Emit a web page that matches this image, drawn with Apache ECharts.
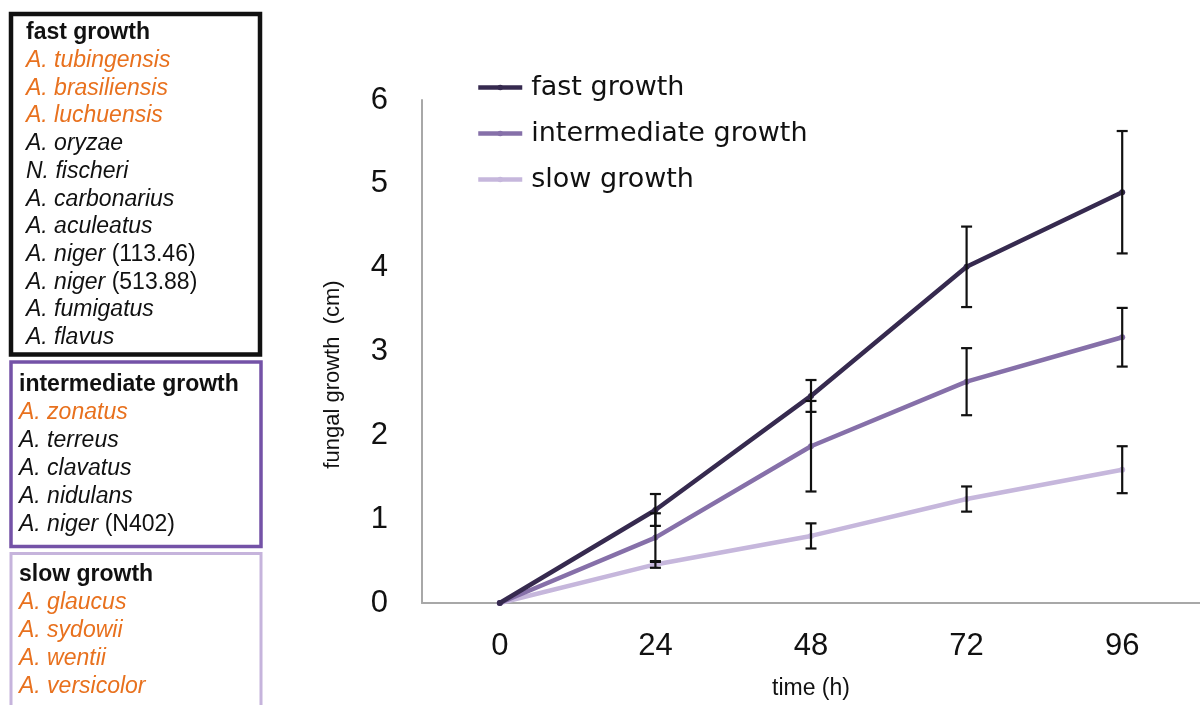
<!DOCTYPE html>
<html>
<head>
<meta charset="utf-8">
<script src="https://cdn.jsdelivr.net/npm/echarts@6/dist/echarts.min.js"></script>
<style>html,body{margin:0;padding:0;background:#fff}#c{width:1200px;height:705px}</style>
</head>
<body>
<div id="c"></div>
<script>
const categories = ['0', '24', '48', '72', '96'];
const seriesNames = ['fast growth', 'intermediate growth', 'slow growth'];
const fastValues = [0, 1.11, 2.47, 4.01, 4.90];
const interValues = [0, 0.78, 1.87, 2.64, 3.17];
const slowValues = [0, 0.46, 0.80, 1.24, 1.59];
const fastErr = [0, 0.19, 0.19, 0.48, 0.73];
const interErr = [0, 0.29, 0.54, 0.40, 0.35];
const slowErr = [0, 0.04, 0.15, 0.15, 0.28];
const yTicks = [0, 1, 2, 3, 4, 5, 6];

const fastList = [['b', 'fast growth'], ['o', 'A. tubingensis'], ['o', 'A. brasiliensis'], ['o', 'A. luchuensis'],
  ['k', 'A. oryzae'], ['k', 'N. fischeri'], ['k', 'A. carbonarius'], ['k', 'A. aculeatus'],
  ['s', 'A. niger|(113.46)'], ['s', 'A. niger|(513.88)'], ['k', 'A. fumigatus'], ['k', 'A. flavus']];
const interList = [['b', 'intermediate growth'], ['o', 'A. zonatus'], ['k', 'A. terreus'], ['k', 'A. clavatus'],
  ['k', 'A. nidulans'], ['s', 'A. niger|(N402)']];
const slowList = [['b', 'slow growth'], ['o', 'A. glaucus'], ['o', 'A. sydowii'], ['o', 'A. wentii'], ['o', 'A. versicolor']];

const colors = ['#362a4f', '#8670a9', '#c6b7dc'];
const ORANGE = '#e8711e';
const BOXFONT = 23;

function errData(vals, errs) {
  const out = [];
  for (let i = 0; i < vals.length; i++) {
    if (errs[i] > 0) out.push([i, vals[i] - errs[i], vals[i] + errs[i]]);
  }
  return out;
}

function boxTexts(list, x, y0, step) {
  return list.map(function (item, i) {
    const kind = item[0], t = item[1];
    let style = { x: x, y: y0 + i * step, textVerticalAlign: 'middle', fontFamily: 'Liberation Sans, Arial, sans-serif', fontSize: BOXFONT };
    if (kind === 'b') {
      style.text = t; style.fontWeight = 'bold'; style.fill = '#111';
    } else if (kind === 'o') {
      style.text = t; style.fontStyle = 'italic'; style.fill = ORANGE;
    } else if (kind === 'k') {
      style.text = t; style.fontStyle = 'italic'; style.fill = '#111';
    } else {
      const parts = t.split('|');
      style.text = '{i|' + parts[0] + '} {n|' + parts[1] + '}';
      style.fill = '#111';
      style.rich = {
        i: { fontStyle: 'italic', fontSize: BOXFONT, fontFamily: 'Liberation Sans, Arial, sans-serif', fill: '#111' },
        n: { fontStyle: 'normal', fontSize: BOXFONT, fontFamily: 'Liberation Sans, Arial, sans-serif', fill: '#111' }
      };
    }
    return { type: 'text', style: style, z: 10 };
  });
}

const chart = echarts.init(document.getElementById('c'), null, { renderer: 'canvas' });

const lineSeries = [fastValues, interValues, slowValues].map(function (vals, k) {
  return {
    name: seriesNames[k], type: 'line', data: vals,
    symbol: 'circle', symbolSize: 6, showSymbol: true,
    lineStyle: { width: 4.5, color: colors[k] },
    itemStyle: { color: colors[k] },
    z: 3 - k
  };
});

const errSeries = [[fastValues, fastErr], [interValues, interErr], [slowValues, slowErr]].map(function (p) {
  return {
    type: 'custom',
    data: errData(p[0], p[1]),
    z: 10,
    renderItem: function (params, api) {
      const lo = api.coord([api.value(0), api.value(1)]);
      const hi = api.coord([api.value(0), api.value(2)]);
      const hw = 5.5;
      const st = { stroke: '#111', lineWidth: 2.2 };
      return {
        type: 'group',
        children: [
          { type: 'line', shape: { x1: lo[0], y1: lo[1], x2: hi[0], y2: hi[1] }, style: st },
          { type: 'line', shape: { x1: lo[0] - hw, y1: lo[1], x2: lo[0] + hw, y2: lo[1] }, style: st },
          { type: 'line', shape: { x1: hi[0] - hw, y1: hi[1], x2: hi[0] + hw, y2: hi[1] }, style: st }
        ]
      };
    }
  };
});

const graphics = [
  { type: 'rect', shape: { x: 11, y: 14, width: 249, height: 340.5 }, style: { fill: 'none', stroke: '#111', lineWidth: 4.5 } },
  { type: 'rect', shape: { x: 11, y: 362, width: 250, height: 184.5 }, style: { fill: 'none', stroke: '#7452a7', lineWidth: 3.5 } },
  { type: 'rect', shape: { x: 11, y: 553.5, width: 250, height: 170 }, style: { fill: 'none', stroke: '#c6b4dc', lineWidth: 3 } }
].concat(boxTexts(fastList, 26, 33, 27.7))
 .concat(boxTexts(interList, 19, 385, 28))
 .concat(boxTexts(slowList, 19, 575, 28));

chart.setOption({
  animation: false,
  backgroundColor: '#fff',
  graphic: graphics,
  legend: {
    data: seriesNames,
    orient: 'vertical', left: 471, top: 69,
    itemWidth: 44, itemHeight: 7, itemGap: 19,
    lineStyle: { width: 4.5 },
    textStyle: { fontFamily: 'DejaVu Sans, sans-serif', fontSize: 27, color: '#111', padding: [0, 0, 0, 4] }
  },
  grid: { left: 422, right: 0, top: 100, bottom: 101, containLabel: false },
  xAxis: {
    type: 'category', data: categories, boundaryGap: true,
    axisLine: { lineStyle: { color: '#a8a8a8', width: 2 } },
    axisTick: { show: false },
    axisLabel: { margin: 28, fontSize: 31, color: '#111', fontFamily: 'Liberation Sans Narrow, Arial Narrow, sans-serif' },
    name: 'time (h)', nameLocation: 'middle', nameGap: 74,
    nameTextStyle: { fontSize: 23, color: '#111', fontFamily: 'Liberation Sans Narrow, Arial Narrow, sans-serif' }
  },
  yAxis: {
    type: 'value', min: yTicks[0], max: yTicks[yTicks.length - 1], interval: 1,
    axisLine: { show: true, lineStyle: { color: '#a8a8a8', width: 2 } },
    axisTick: { show: false },
    splitLine: { show: false },
    axisLabel: { margin: 34, fontSize: 31, color: '#111', fontFamily: 'Liberation Sans, Arial, sans-serif' },
    name: 'fungal growth  (cm)', nameLocation: 'middle', nameGap: 78,
    nameTextStyle: { fontSize: 22, color: '#111', fontFamily: 'Liberation Sans, Arial, sans-serif', padding: [0, 46, 0, 0] }
  },
  series: lineSeries.concat(errSeries)
});
</script>
</body>
</html>
